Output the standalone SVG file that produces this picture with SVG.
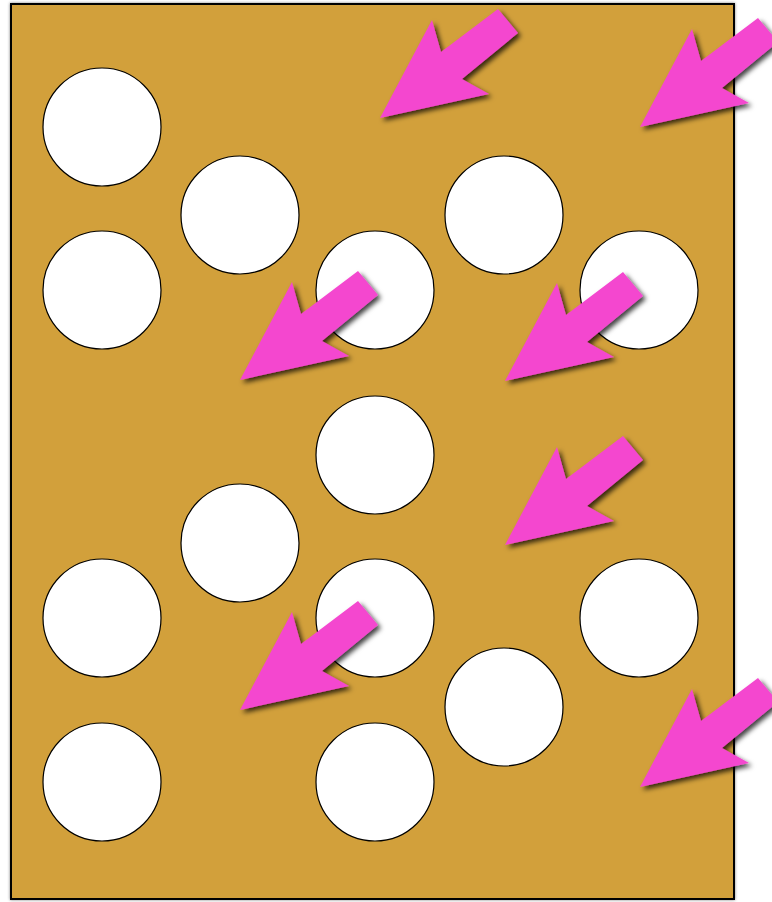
<svg xmlns="http://www.w3.org/2000/svg" width="772" height="902" viewBox="0 0 772 902">
<defs>
<style>
.hole{fill:#ffffff;stroke:#000000;stroke-width:1.2}
.arrow{fill:#F447CF;filter:url(#sh)}
</style>
<filter id="sh" x="-20%" y="-20%" width="150%" height="150%">
<feDropShadow dx="3" dy="3" stdDeviation="2.5" flood-color="#000000" flood-opacity="0.75"/>
</filter>
<filter id="rs" x="-5%" y="-5%" width="110%" height="110%">
<feDropShadow dx="0" dy="0" stdDeviation="1.5" flood-color="#000000" flood-opacity="0.5"/>
</filter>
<path id="arr" d="M0,0 L52,-98 L61,-66 L118,-109 L138,-85 L82,-39 L109,-24 Z"/>
</defs>
<g id="plate">
<rect x="11" y="4" width="723" height="895" fill="#D2A03A" stroke="#000000" stroke-width="2" filter="url(#rs)"/>
</g>
<g id="holes">
<circle class="hole" cx="102" cy="127" r="59"/>
<circle class="hole" cx="240" cy="215" r="59"/>
<circle class="hole" cx="102" cy="290" r="59"/>
<circle class="hole" cx="375" cy="290" r="59"/>
<circle class="hole" cx="504" cy="215" r="59"/>
<circle class="hole" cx="639" cy="290" r="59"/>
<circle class="hole" cx="375" cy="455" r="59"/>
<circle class="hole" cx="240" cy="543" r="59"/>
<circle class="hole" cx="102" cy="618" r="59"/>
<circle class="hole" cx="375" cy="618" r="59"/>
<circle class="hole" cx="639" cy="618" r="59"/>
<circle class="hole" cx="504" cy="707" r="59"/>
<circle class="hole" cx="102" cy="782" r="59"/>
<circle class="hole" cx="375" cy="782" r="59"/>
</g>
<g id="arrows">
<use href="#arr" class="arrow" transform="translate(380,118)"/>
<use href="#arr" class="arrow" transform="translate(640,127)"/>
<use href="#arr" class="arrow" transform="translate(240,380)"/>
<use href="#arr" class="arrow" transform="translate(505,381)"/>
<use href="#arr" class="arrow" transform="translate(505,545)"/>
<use href="#arr" class="arrow" transform="translate(240,710)"/>
<use href="#arr" class="arrow" transform="translate(640,787)"/>
</g>
</svg>
